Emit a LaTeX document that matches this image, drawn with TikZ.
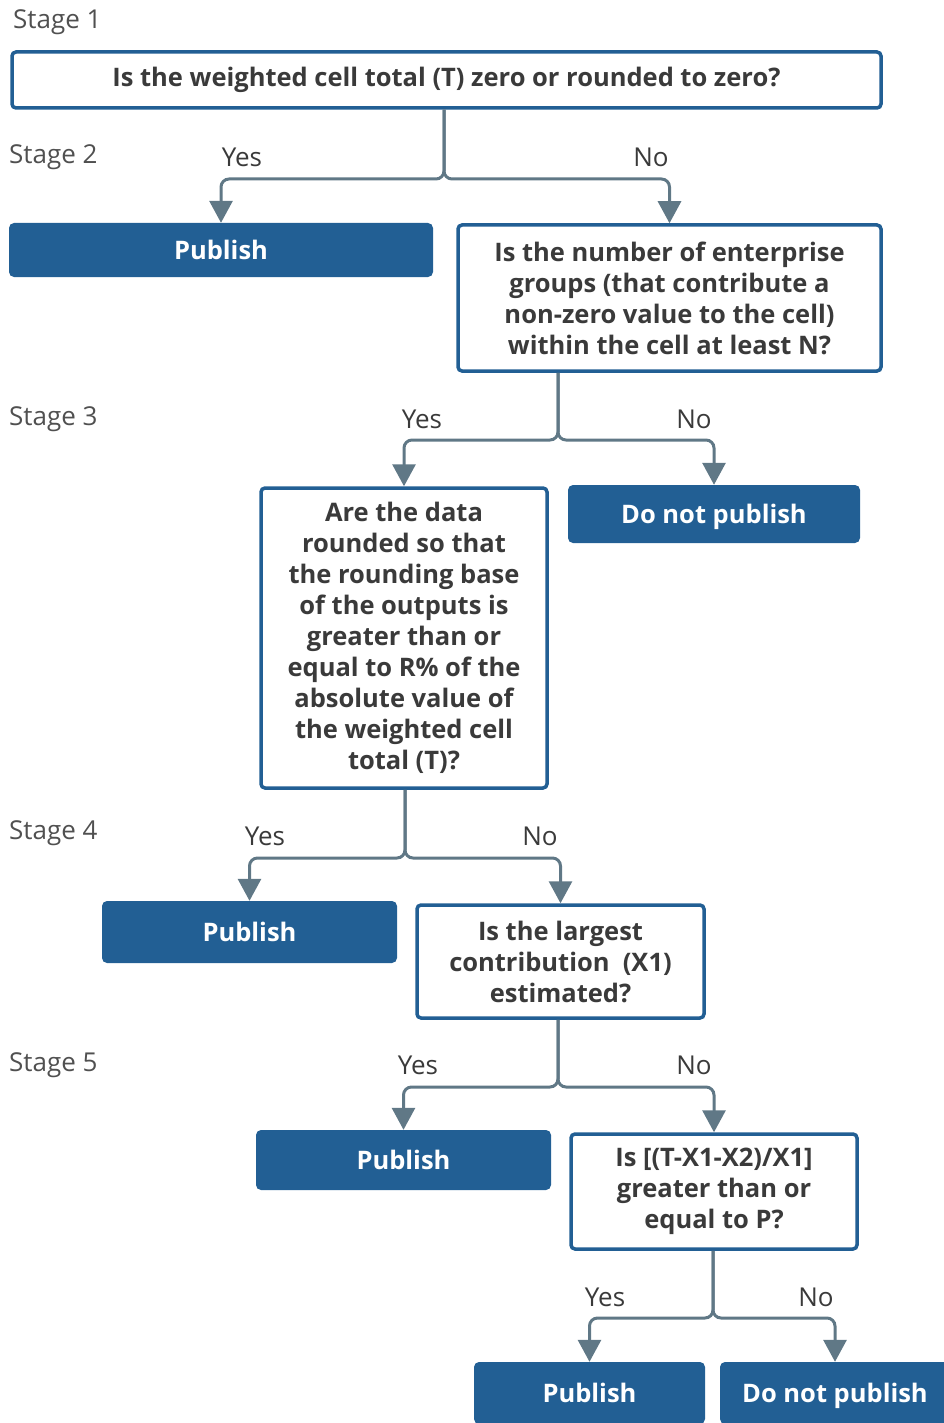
\documentclass[tikz,border=0pt]{standalone}
\usepackage{fontspec}
\setmainfont{Open Sans}
\usetikzlibrary{arrows.meta}
\definecolor{myblue}{RGB}{34,95,148}
\definecolor{conncol}{RGB}{96,120,134}
\definecolor{txt}{RGB}{58,58,58}
\definecolor{stagecol}{RGB}{80,80,80}
\newcommand{\qfont}{\fontsize{25.5}{31}\selectfont\bfseries}
\newcommand{\lfont}{\fontsize{26}{30}\selectfont}
\tikzset{
  qbox/.style={draw=myblue, line width=3.5pt, rounded corners=4pt, fill=white, text=txt, font=\qfont, align=center, inner sep=0pt},
  abox/.style={fill=myblue, rounded corners=5pt, text=white, font=\qfont, align=center, inner sep=0pt, text height=19pt, text depth=0pt},
  conn/.style={draw=conncol, line width=3pt, rounded corners=8pt, -{Triangle[width=23pt,length=22pt]}},
  lbl/.style={text=txt, font=\lfont, inner sep=0pt},
  stagelbl/.style={text=stagecol, font=\lfont, inner sep=0pt, anchor=west}
}
\begin{document}
\begin{tikzpicture}[x=1pt,y=-1pt]
\useasboundingbox (0,0) rectangle (944,1423);
% stage labels
\node[stagelbl] (s1) at (13,22) {Stage 1};
\node[stagelbl] (s2) at (9,157) {Stage 2};
\node[stagelbl] (s3) at (9,419) {Stage 3};
\node[stagelbl] (s4) at (9,833) {Stage 4};
\node[stagelbl] (s5) at (9,1065) {Stage 5};
% boxes
\node[qbox, minimum width=869pt, minimum height=56pt] (top) at (446.5,80) {Is the weighted cell total (T) zero or rounded to zero?};
\node[abox, minimum width=424pt, minimum height=54pt] (pub2) at (221,250) {Publish};
\node[qbox, minimum width=423pt, minimum height=146pt] (q2) at (669.5,298) {Is the number of enterprise\\groups (that contribute a\\non-zero value to the cell)\\within the cell at least N?};
\node[qbox, minimum width=286pt, minimum height=300pt] (q3) at (404,638) {Are the data\\rounded so that\\the rounding base\\of the outputs is\\greater than or\\equal to R\% of the\\absolute value of\\the weighted cell\\total (T)?};
\node[abox, minimum width=292pt, minimum height=58pt] (dnp3) at (714,514) {Do not publish};
\node[abox, minimum width=295pt, minimum height=62pt] (pub4) at (249.5,932) {Publish};
\node[qbox, minimum width=287pt, minimum height=113pt] (q4) at (560.5,961.5) {Is the largest\\contribution~~(X1)\\estimated?};
\node[abox, minimum width=295pt, minimum height=60pt] (pub5) at (403.5,1160) {Publish};
\node[qbox, minimum width=286pt, minimum height=115pt] (q5) at (714,1191.5) {Is [(T-X1-X2)/X1]\\greater than or\\equal to P?};
\node[abox, minimum width=231pt, minimum height=62pt] (pub6) at (589.5,1393) {Publish};
\node[abox, minimum width=230pt, minimum height=62pt] (dnp6) at (835,1393) {Do not publish};
% connectors
\coordinate (j1) at (444,179);
\coordinate (j2) at (558,440);
\coordinate (j3) at (405,858);
\coordinate (j4) at (558,1087);
\coordinate (j5) at (713,1318);
\draw[conn] (j1 |- top.south) -- (j1) -| (pub2.north);
\draw[conn] (j1 |- top.south) -- (j1) -| (q2.north);
\draw[conn] (j2 |- q2.south) -- (j2) -| (q3.north);
\draw[conn] (j2 |- q2.south) -- (j2) -| (dnp3.north);
\draw[conn] (j3 |- q3.south) -- (j3) -| (pub4.north);
\draw[conn] (j3 |- q3.south) -- (j3) -| (q4.north);
\draw[conn] (j4 |- q4.south) -- (j4) -| (pub5.north);
\draw[conn] (j4 |- q4.south) -- (j4) -| (q5.north);
\draw[conn] (j5 |- q5.south) -- (j5) -| (pub6.north);
\draw[conn] (j5 |- q5.south) -- (j5) -| (dnp6.north);
% yes/no labels
\node[lbl] (y1) at (242,157) {Yes};
\node[lbl] (n1) at (651,157) {No};
\node[lbl] (y2) at (422,419) {Yes};
\node[lbl] (n2) at (694,419) {No};
\node[lbl] (y3) at (265,836) {Yes};
\node[lbl] (n3) at (540,836) {No};
\node[lbl] (y4) at (418,1065) {Yes};
\node[lbl] (n4) at (694,1065) {No};
\node[lbl] (y5) at (605,1297) {Yes};
\node[lbl] (n5) at (816,1297) {No};
\end{tikzpicture}
\end{document}
